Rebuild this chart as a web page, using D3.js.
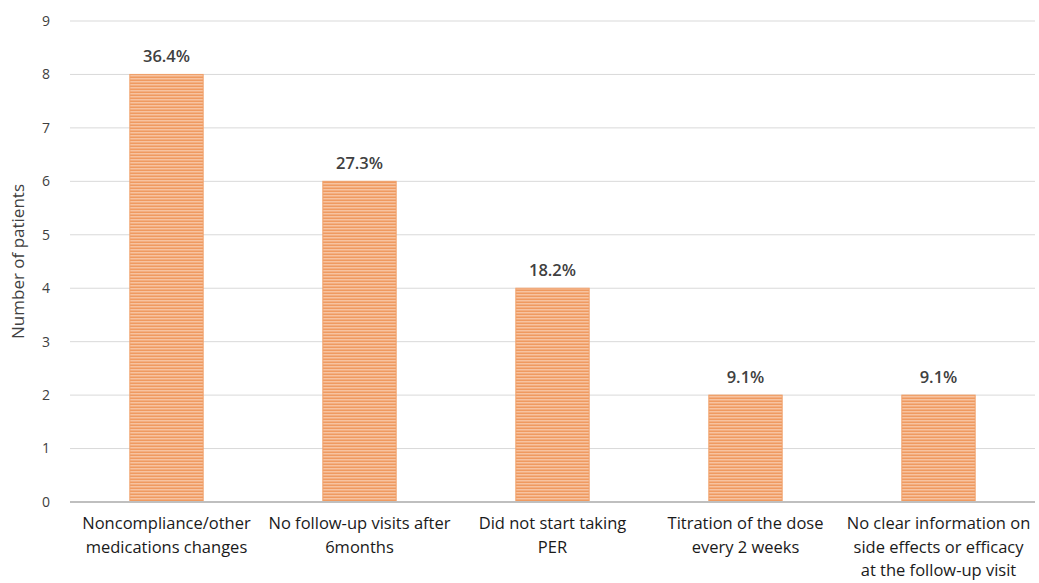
<!DOCTYPE html>
<html>
<head>
<meta charset="utf-8">
<script src="https://cdn.jsdelivr.net/npm/d3@7"></script>
<style>
  body { margin: 0; background: #fff; }
</style>
</head>
<body>
<div id="chart"></div>
<script>
var categories = [
    ["Noncompliance/other", "medications changes"],
    ["No follow-up visits after", "6months"],
    ["Did not start taking", "PER"],
    ["Titration of the dose", "every 2 weeks"],
    ["No clear information on", "side effects or efficacy", "at the follow-up visit"]
];
var patients = [8, 6, 4, 2, 2];
var percentLabels = ["36.4%", "27.3%", "18.2%", "9.1%", "9.1%"];
var yTicks = [0, 1, 2, 3, 4, 5, 6, 7, 8, 9];

var width = 1039, height = 583;
var margin = {top: 21, right: 4, bottom: 81, left: 70};

var svg = d3.select("#chart")
    .append("svg")
    .attr("width", width)
    .attr("height", height)
    .attr("font-family", "'Open Sans', sans-serif");

var defs = svg.append("defs");
var pat = defs.append("pattern")
    .attr("id", "stripes")
    .attr("patternUnits", "userSpaceOnUse")
    .attr("width", 8)
    .attr("height", 3);
pat.append("rect").attr("width", 8).attr("height", 3).attr("fill", "#f7c3a0");
pat.append("rect").attr("y", 1.5).attr("width", 8).attr("height", 1.5).attr("fill", "#ef9a60");

var x = d3.scaleBand()
    .domain(d3.range(categories.length))
    .range([margin.left, width - margin.right])
    .paddingInner(0.62)
    .paddingOuter(0.31);

var y = d3.scaleLinear()
    .domain([0, 9])
    .range([height - margin.bottom, margin.top]);

// gridlines
svg.append("g")
    .selectAll("line")
    .data(yTicks.filter(d => d > 0))
    .enter()
    .append("line")
    .attr("x1", margin.left)
    .attr("x2", width - margin.right)
    .attr("y1", d => y(d))
    .attr("y2", d => y(d))
    .attr("stroke", "#d9d9d9")
    .attr("stroke-width", 1);

// tick labels
svg.append("g")
    .selectAll("text")
    .data(yTicks)
    .enter()
    .append("text")
    .attr("x", 50)
    .attr("y", d => y(d))
    .attr("dy", "0.35em")
    .attr("text-anchor", "end")
    .attr("font-size", 14)
    .attr("fill", "#404040")
    .text(d => d);

svg.append("text")
    .attr("transform", "translate(24," + ((margin.top + height - margin.bottom) / 2) + ") rotate(-90)")
    .attr("text-anchor", "middle")
    .attr("font-size", 17)
    .attr("fill", "#404040")
    .text("Number of patients");

// bars
svg.append("g")
    .selectAll("rect")
    .data(patients)
    .enter()
    .append("rect")
    .attr("x", (d, i) => x(i))
    .attr("y", d => y(d))
    .attr("width", x.bandwidth())
    .attr("height", d => y(0) - y(d))
    .attr("fill", "url(#stripes)")
    .attr("stroke", "#f0a06a")
    .attr("stroke-width", 1);

// value labels
svg.append("g")
    .selectAll("text")
    .data(patients)
    .enter()
    .append("text")
    .attr("x", (d, i) => x(i) + x.bandwidth() / 2)
    .attr("y", d => y(d) - 12)
    .attr("text-anchor", "middle")
    .attr("font-size", 16.5)
    .attr("font-weight", 600)
    .attr("fill", "#404040")
    .text((d, i) => percentLabels[i]);

// x axis line
svg.append("line")
    .attr("x1", margin.left)
    .attr("x2", width - margin.right)
    .attr("y1", y(0))
    .attr("y2", y(0))
    .attr("stroke", "#bfbfbf")
    .attr("stroke-width", 2);

// category labels
var catText = svg.append("g")
    .selectAll("text")
    .data(categories)
    .enter()
    .append("text")
    .attr("text-anchor", "middle")
    .attr("font-size", 16.5)
    .attr("fill", "#1a1a1a");
catText.selectAll("tspan")
    .data((d, i) => d.map(line => ({line: line, i: i})))
    .enter()
    .append("tspan")
    .attr("x", d => x(d.i) + x.bandwidth() / 2)
    .attr("y", (d, j) => 529 + j * 23.5)
    .text(d => d.line);
</script>
</body>
</html>
